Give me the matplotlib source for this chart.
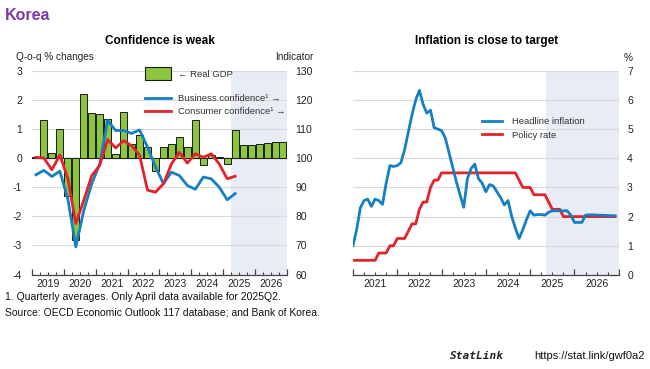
import matplotlib
matplotlib.use("Agg")
import matplotlib.pyplot as plt
from matplotlib.patches import Patch
from matplotlib.lines import Line2D

plt.rcParams['font.family'] = ['Liberation Sans Narrow', 'Liberation Sans', 'DejaVu Sans']
plt.rcParams['axes.unicode_minus'] = False

# ---- left panel: quarterly data, 2019Q1 - 2026Q4 ----
years_left = ['2019', '2020', '2021', '2022', '2023', '2024', '2025', '2026']
real_gdp = [0.05, 1.31, 0.18, 1.0, -1.31, -2.8, 2.2, 1.55,
            1.53, 1.34, 0.15, 1.58, 0.49, 0.78, 0.38, -0.45,
            0.38, 0.5, 0.72, 0.4, 1.3, -0.22, 0.1, 0.05,
            -0.2, 0.95, 0.45, 0.45, 0.5, 0.52, 0.55, 0.55]
business_conf = [94.3, 95.8, 93.7, 95.5, 86.0, 69.5, 82.0, 91.2,
                 98.0, 113.0, 109.5, 109.5, 108.5, 109.7, 103.8, 97.0,
                 91.2, 95.2, 94.0, 90.6, 89.3, 93.5, 92.9, 90.0,
                 85.7, 87.8]
consumer_conf = [100.3, 100.0, 96.0, 101.1, 93.0, 77.5, 85.5, 94.0,
                 97.5, 106.4, 103.5, 106.0, 104.3, 101.0, 89.0, 88.3,
                 91.2, 98.0, 102.0, 98.3, 101.5, 100.3, 101.5, 98.0,
                 92.9, 93.8]

# ---- right panel: monthly data, Jan 2021 - Dec 2026 ----
years_right = ['2021', '2022', '2023', '2024', '2025', '2026']
headline_inflation = [1.0, 1.55, 2.3, 2.55, 2.6, 2.35, 2.6, 2.55, 2.42, 3.15, 3.75, 3.72,
                      3.75, 3.85, 4.3, 4.9, 5.5, 6.0, 6.33, 5.85, 5.55, 5.65, 5.05, 5.0,
                      4.95, 4.7, 4.2, 3.7, 3.2, 2.75, 2.32, 3.3, 3.65, 3.8, 3.3, 3.15,
                      2.85, 3.1, 3.05, 2.85, 2.65, 2.4, 2.55, 2.0, 1.6, 1.25, 1.55, 1.9,
                      2.2, 2.05, 2.07, 2.07, 2.05, 2.15, 2.2, 2.2, 2.2, 2.2, 2.2, 2.05,
                      1.8, 1.8, 1.8, 2.05, 2.06, 2.06, 2.05, 2.05, 2.04, 2.04, 2.03, 2.03]
policy_rate = [0.5, 0.5, 0.5, 0.5, 0.5, 0.5, 0.5, 0.75, 0.75, 0.75, 1.0, 1.0,
               1.25, 1.25, 1.25, 1.5, 1.75, 1.75, 2.25, 2.5, 2.5, 3.0, 3.25, 3.25,
               3.5, 3.5, 3.5, 3.5, 3.5, 3.5, 3.5, 3.5, 3.5, 3.5, 3.5, 3.5,
               3.5, 3.5, 3.5, 3.5, 3.5, 3.5, 3.5, 3.5, 3.5, 3.25, 3.0, 3.0,
               3.0, 2.75, 2.75, 2.75, 2.75, 2.5, 2.25, 2.25, 2.25, 2.0, 2.0, 2.0,
               2.0, 2.0, 2.0, 2.0, 2.0, 2.0, 2.0, 2.0, 2.0, 2.0, 2.0, 2.0]

GREEN = '#8CC63F'
BLUE = '#1380C4'
RED = '#E3232B'
SHADE = '#E8ECF4'
GRID = '#D9D9D9'
TXT = '#222222'
PURPLE = '#7B3AA6'


def style_bottom(ax, n_years, per_year):
    for s in ['left', 'right', 'top']:
        ax.spines[s].set_visible(False)
    ax.spines['bottom'].set_color('#444444')
    ax.spines['bottom'].set_linewidth(0.9)
    ax.set_xticks(range(0, n_years * per_year + 1, per_year))
    ax.set_xticks(range(0, n_years * per_year + 1, per_year // 4), minor=True)
    ax.tick_params(axis='x', which='major', direction='in', length=4, width=0.9,
                   color='#444444', labelbottom=False)
    ax.tick_params(axis='x', which='minor', direction='in', length=2, width=0.8,
                   color='#444444')


fig = plt.figure(figsize=(6.5, 3.69), dpi=100)

# ================= left panel =================
ax1 = fig.add_axes([0.0492, 0.256, 0.3923, 0.552])
nq = len(years_left) * 4
ax1.set_xlim(0, nq)
ax1.set_ylim(-4, 3)
ax1.axvspan(25, nq, color=SHADE, lw=0, zorder=0)
ax1.set_yticks(range(-4, 4))
ax1.yaxis.grid(True, color=GRID, lw=0.8)
ax1.set_axisbelow(True)
ax1.axhline(0, color='#6b6b6b', lw=0.9, zorder=1)
ax1.bar([i + 0.5 for i in range(len(real_gdp))], real_gdp, width=0.88,
        color=GREEN, edgecolor='#1a1a1a', linewidth=0.7, zorder=2)
style_bottom(ax1, len(years_left), 4)
ax1.tick_params(axis='y', length=0, labelsize=7.5, pad=7, colors=TXT)

sec1 = ax1.secondary_xaxis('bottom')
sec1.set_xticks([4 * k + 2 for k in range(len(years_left))], labels=years_left)
sec1.tick_params(length=0, labelsize=7.5, pad=3, colors=TXT)
sec1.spines['bottom'].set_visible(False)

leg_a = ax1.legend(handles=[Patch(facecolor=GREEN, edgecolor='#1a1a1a', lw=0.8,
                                  label='\u2190 Real GDP')],
                   loc='upper left', bbox_to_anchor=(0.43, 1.035), frameon=False,
                   fontsize=6.8, handlelength=2.7, handleheight=1.7,
                   handletextpad=0.7, borderaxespad=0)

ax2 = ax1.twinx()
ax2.set_ylim(60, 130)
ax2.set_yticks(range(60, 131, 10))
xc = [i + 0.5 for i in range(len(business_conf))]
ax2.plot(xc, business_conf, color=BLUE, lw=2, zorder=3)
ax2.plot(xc, consumer_conf, color=RED, lw=2, zorder=3)
for s in ax2.spines.values():
    s.set_visible(False)
ax2.tick_params(axis='y', length=0, labelsize=7.5, pad=6, colors=TXT)

leg_b = ax2.legend(handles=[Line2D([], [], color=BLUE, lw=2,
                                   label='Business confidence\u00b9 \u2192'),
                            Line2D([], [], color=RED, lw=2,
                                   label='Consumer confidence\u00b9 \u2192')],
                   loc='upper left', bbox_to_anchor=(0.43, 0.905), frameon=False,
                   fontsize=6.8, handlelength=2.7, handletextpad=0.7,
                   labelspacing=0.45, borderaxespad=0)
for t in leg_a.get_texts() + leg_b.get_texts():
    t.set_color('#333333')

fig.text(0.2455, 0.888, 'Confidence is weak', ha='center', va='center',
         fontsize=8.5, fontweight='bold', color='black')
fig.text(0.025, 0.845, 'Q-o-q % changes', ha='left', va='center', fontsize=7.2,
         color=TXT)
fig.text(0.482, 0.845, 'Indicator', ha='right', va='center', fontsize=7.2,
         color=TXT)

# ================= right panel =================
ax3 = fig.add_axes([0.543, 0.255, 0.409, 0.553])
nm = len(years_right) * 12
ax3.set_xlim(0, nm)
ax3.set_ylim(0, 7)
ax3.axvspan(52.3, nm, color=SHADE, lw=0, zorder=0)
ax3.set_yticks(range(0, 8))
ax3.yaxis.grid(True, color=GRID, lw=0.8)
ax3.set_axisbelow(True)
xm = list(range(len(headline_inflation)))
ax3.plot(xm, headline_inflation, color=BLUE, lw=2, zorder=3,
         label='Headline inflation')
ax3.plot(xm, policy_rate, color=RED, lw=2, zorder=2, label='Policy rate')
style_bottom(ax3, len(years_right), 12)
ax3.yaxis.tick_right()
ax3.tick_params(axis='y', length=0, labelsize=7.5, pad=6, colors=TXT)

sec3 = ax3.secondary_xaxis('bottom')
sec3.set_xticks([12 * k + 6 for k in range(len(years_right))], labels=years_right)
sec3.tick_params(length=0, labelsize=7.5, pad=3, colors=TXT)
sec3.spines['bottom'].set_visible(False)

leg_c = ax3.legend(loc='upper left', bbox_to_anchor=(0.47, 0.79), frameon=False,
                   fontsize=6.8, handlelength=2.2, handletextpad=1.0,
                   labelspacing=0.45, borderaxespad=0)
for t in leg_c.get_texts():
    t.set_color('#333333')

fig.text(0.749, 0.888, 'Inflation is close to target', ha='center', va='center',
         fontsize=8.5, fontweight='bold', color='black')
fig.text(0.966, 0.843, '%', ha='center', va='center', fontsize=7.2, color=TXT)

# ================= titles and notes =================
fig.text(0.007, 0.958, 'Korea', ha='left', va='center', fontsize=11.5,
         fontweight='bold', color=PURPLE)
fig.text(0.007, 0.195, '1. Quarterly averages. Only April data available for 2025Q2.',
         ha='left', va='center', fontsize=7.5, color='#111111')
fig.text(0.007, 0.152, 'Source: OECD Economic Outlook 117 database; and Bank of Korea.',
         ha='left', va='center', fontsize=7.5, color='#111111')
fig.text(0.775, 0.035, 'StatLink', ha='right', va='center', fontsize=8,
         fontweight='bold', fontstyle='italic', family=['DejaVu Sans Mono', 'DejaVu Sans'],
         color='#222222')
fig.text(0.822, 0.035, 'https://stat.link/gwf0a2', ha='left', va='center',
         fontsize=8, color='#111111')

fig.savefig('out.png', dpi=100)
